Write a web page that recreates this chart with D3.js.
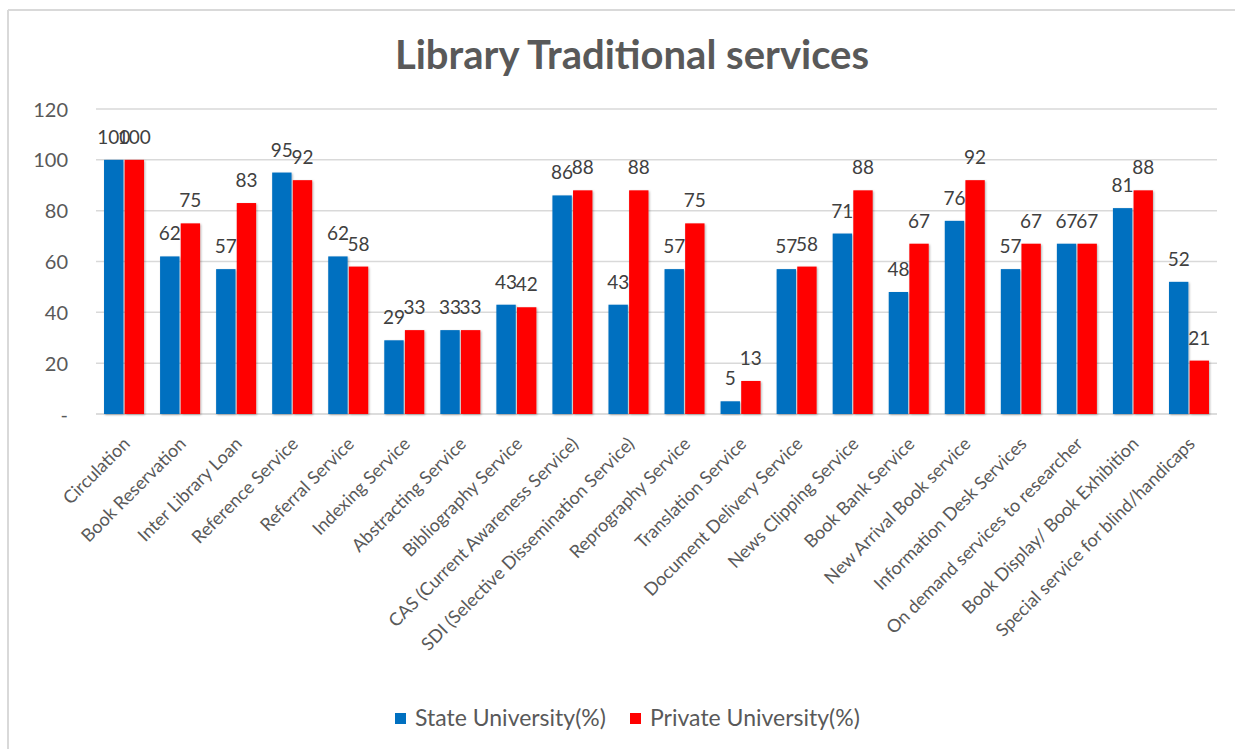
<!DOCTYPE html>
<html>
<head>
<meta charset="utf-8">
<script src="https://cdn.jsdelivr.net/npm/d3@7"></script>
<style>
  html, body { margin: 0; padding: 0; background: #fff; }
  svg { display: block; font-family: Lato, "Open Sans", sans-serif; }
</style>
</head>
<body>
<svg id="chart" width="1235" height="749"></svg>
<script>
// Services offered by university libraries (% of libraries offering each)
const categories = [
  "Circulation", "Book Reservation", "Inter Library Loan", "Reference Service",
  "Referral Service", "Indexing Service", "Abstracting  Service", "Bibliography Service",
  "CAS (Current Awareness Service)", "SDI (Selective Dissemination Service)",
  "Reprography Service", "Translation Service", "Document Delivery Service",
  "News Clipping Service", "Book Bank Service", "New Arrival Book service",
  "Information Desk Services", "On demand services to researcher",
  "Book Display/ Book Exhibition", "Special service for blind/handicaps"
];
const stateUniversity = [100, 62, 57, 95, 62, 29, 33, 43, 86, 43, 57, 5, 57, 71, 48, 76, 57, 67, 81, 52];
const privateUniversity = [100, 75, 83, 92, 58, 33, 33, 42, 88, 88, 75, 13, 58, 88, 67, 92, 67, 67, 88, 21];
const seriesNames = ["State University(%)", "Private University(%)"];
const yTicks = [0, 20, 40, 60, 80, 100, 120];

const colors = ["#0070C0", "#FF0000"];
const textColor = "#595959";

const svg = d3.select("#chart");
const plot = { left: 96, right: 1217, top: 109, bottom: 414 };

// frame lines of the chart area
svg.append("line").attr("x1", 8).attr("x2", 8).attr("y1", 10).attr("y2", 749)
  .attr("stroke", "#d9d9d9").attr("stroke-width", 2);
svg.append("line").attr("x1", 8).attr("x2", 1235).attr("y1", 10).attr("y2", 10)
  .attr("stroke", "#d9d9d9").attr("stroke-width", 2);

const defs = svg.append("defs");
defs.append("filter").attr("id", "barShadow")
  .attr("x", "-30%").attr("y", "-10%").attr("width", "160%").attr("height", "120%")
  .append("feDropShadow")
  .attr("dx", 1).attr("dy", 1).attr("stdDeviation", 1.2)
  .attr("flood-color", "#000").attr("flood-opacity", 0.3);

const x = d3.scaleBand().domain(categories).range([plot.left, plot.right]).paddingInner(0).paddingOuter(0);
const x1 = d3.scaleBand().domain(seriesNames).range([x.bandwidth() / 2 - 20, x.bandwidth() / 2 + 20]).paddingInner(0.06);
const y = d3.scaleLinear().domain([0, 120]).range([plot.bottom, plot.top]);

// horizontal gridlines
svg.append("g")
  .selectAll("line").data(yTicks).join("line")
  .attr("x1", plot.left).attr("x2", plot.right)
  .attr("y1", d => y(d)).attr("y2", d => y(d))
  .attr("stroke", d => d === 0 ? "#d0d0d0" : "#d9d9d9").attr("stroke-width", 1.5);

// y axis labels
const yAxis = d3.axisLeft(y).tickValues(yTicks).tickSize(0).tickPadding(0)
  .tickFormat(d => d === 0 ? "-" : d);
const yg = svg.append("g").attr("transform", `translate(68,0)`).call(yAxis);
yg.select(".domain").remove();
yg.selectAll("text").attr("fill", textColor).attr("font-size", 20).attr("font-family", "Lato, sans-serif")
  .attr("dy", "0.35em");

// bars
const groups = categories.map((c, i) => ({ c, vals: [stateUniversity[i], privateUniversity[i]] }));
const g = svg.append("g");
const grp = g.selectAll("g.grp").data(groups).join("g")
  .attr("class", "grp")
  .attr("transform", d => `translate(${x(d.c)},0)`);

grp.selectAll("rect").data(d => d.vals.map((v, k) => ({ v, k }))).join("rect")
  .attr("x", d => x1(seriesNames[d.k]))
  .attr("width", x1.bandwidth())
  .attr("y", d => y(d.v))
  .attr("height", d => y(0) - y(d.v))
  .attr("fill", d => colors[d.k])
  .attr("filter", "url(#barShadow)");

// value labels above bars
grp.selectAll("text.val").data(d => d.vals.map((v, k) => ({ v, k }))).join("text")
  .attr("class", "val")
  .attr("x", d => x1(seriesNames[d.k]) + x1.bandwidth() / 2)
  .attr("y", d => y(d.v) - 16)
  .attr("text-anchor", "middle")
  .attr("font-size", 19)
  .attr("fill", "#404040")
  .text(d => d.v);

// category labels, rotated
const xAxis = d3.axisBottom(x).tickSize(0).tickPadding(0);
const xg = svg.append("g").attr("transform", `translate(0,${plot.bottom})`).call(xAxis);
xg.select(".domain").remove();
xg.selectAll("text")
  .attr("fill", textColor)
  .attr("font-size", 18)
  .attr("font-family", "Lato, sans-serif")
  .attr("text-anchor", "end")
  .attr("dy", 0)
  .attr("transform", "translate(7,31) rotate(-45)");

// title
svg.append("text")
  .attr("x", 632).attr("y", 69)
  .attr("text-anchor", "middle")
  .attr("font-size", 40).attr("font-weight", "bold")
  .attr("fill", textColor)
  .text("Library Traditional services");

// legend
const legend = svg.append("g").attr("transform", "translate(395,0)");
const legendItems = [{ name: seriesNames[0], color: colors[0], x: 0 }, { name: seriesNames[1], color: colors[1], x: 235 }];
const li = legend.selectAll("g").data(legendItems).join("g").attr("transform", d => `translate(${d.x},0)`);
li.append("rect").attr("x", 0).attr("y", 713).attr("width", 11).attr("height", 11).attr("fill", d => d.color);
li.append("text").attr("x", 20).attr("y", 726).attr("font-size", 23).attr("fill", textColor).text(d => d.name);
</script>
</body>
</html>
